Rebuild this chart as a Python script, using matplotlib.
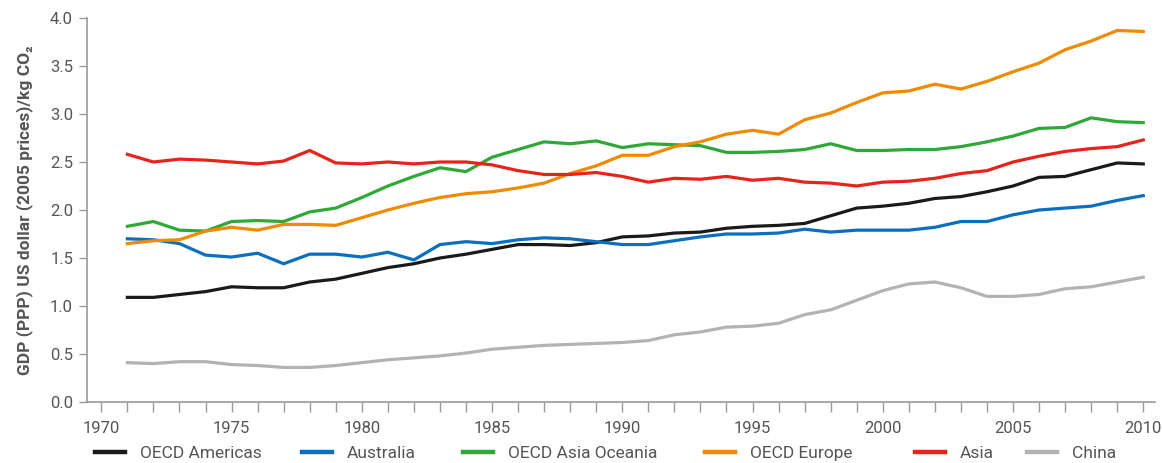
import matplotlib
matplotlib.use("Agg")
import matplotlib.pyplot as plt
from matplotlib.lines import Line2D

plt.rcParams['font.family'] = ['Roboto', 'DejaVu Sans']

years = list(range(1971, 2011))

oecd_americas = [1.09, 1.09, 1.12, 1.15, 1.20, 1.19, 1.19, 1.25, 1.28, 1.34,
                 1.40, 1.44, 1.50, 1.54, 1.59, 1.64, 1.64, 1.63, 1.66, 1.72,
                 1.73, 1.76, 1.77, 1.81, 1.83, 1.84, 1.86, 1.94, 2.02, 2.04,
                 2.07, 2.12, 2.14, 2.19, 2.25, 2.34, 2.35, 2.42, 2.49, 2.48]
australia = [1.70, 1.69, 1.65, 1.53, 1.51, 1.55, 1.44, 1.54, 1.54, 1.51,
             1.56, 1.48, 1.64, 1.67, 1.65, 1.69, 1.71, 1.70, 1.67, 1.64,
             1.64, 1.68, 1.72, 1.75, 1.75, 1.76, 1.80, 1.77, 1.79, 1.79,
             1.79, 1.82, 1.88, 1.88, 1.95, 2.00, 2.02, 2.04, 2.10, 2.15]
oecd_asia_oceania = [1.83, 1.88, 1.79, 1.78, 1.88, 1.89, 1.88, 1.98, 2.02, 2.13,
                     2.25, 2.35, 2.44, 2.40, 2.55, 2.63, 2.71, 2.69, 2.72, 2.65,
                     2.69, 2.68, 2.67, 2.60, 2.60, 2.61, 2.63, 2.69, 2.62, 2.62,
                     2.63, 2.63, 2.66, 2.71, 2.77, 2.85, 2.86, 2.96, 2.92, 2.91]
oecd_europe = [1.65, 1.68, 1.69, 1.78, 1.82, 1.79, 1.85, 1.85, 1.84, 1.92,
               2.00, 2.07, 2.13, 2.17, 2.19, 2.23, 2.28, 2.38, 2.46, 2.57,
               2.57, 2.66, 2.71, 2.79, 2.83, 2.79, 2.94, 3.01, 3.12, 3.22,
               3.24, 3.31, 3.26, 3.34, 3.44, 3.53, 3.67, 3.76, 3.87, 3.86]
asia = [2.58, 2.50, 2.53, 2.52, 2.50, 2.48, 2.51, 2.62, 2.49, 2.48,
        2.50, 2.48, 2.50, 2.50, 2.47, 2.41, 2.37, 2.37, 2.39, 2.35,
        2.29, 2.33, 2.32, 2.35, 2.31, 2.33, 2.29, 2.28, 2.25, 2.29,
        2.30, 2.33, 2.38, 2.41, 2.50, 2.56, 2.61, 2.64, 2.66, 2.73]
china = [0.41, 0.40, 0.42, 0.42, 0.39, 0.38, 0.36, 0.36, 0.38, 0.41,
         0.44, 0.46, 0.48, 0.51, 0.55, 0.57, 0.59, 0.60, 0.61, 0.62,
         0.64, 0.70, 0.73, 0.78, 0.79, 0.82, 0.91, 0.96, 1.06, 1.16,
         1.23, 1.25, 1.19, 1.10, 1.10, 1.12, 1.18, 1.20, 1.25, 1.30]

series_names = ["OECD Americas", "Australia", "OECD Asia Oceania",
                "OECD Europe", "Asia", "China"]
series_values = [oecd_americas, australia, oecd_asia_oceania,
                 oecd_europe, asia, china]
colors = ["#1a1a1a", "#0a6fbf", "#2ea836", "#f08a00", "#e8231c", "#b3b3b3"]

x_ticks = list(range(1970, 2011, 5))
y_ticks = [0.0, 0.5, 1.0, 1.5, 2.0, 2.5, 3.0, 3.5, 4.0]

text_color = "#555555"
axis_color = "#9a9a9a"

W, H = 1162, 463
fig = plt.figure(figsize=(W / 100, H / 100), dpi=100)
ax = fig.add_axes([87 / W, 61 / H, 1068 / W, 384 / H])

lines = []
for name, vals, col in zip(series_names, series_values, colors):
    ln, = ax.plot(years, vals, color=col, lw=2.3, label=name)
    lines.append(ln)

ax.set_xlim(1969.45, 2010.45)
ax.set_ylim(0, 4.0)
ax.set_xticks(x_ticks)
ax.set_xticks(range(1970, 2011), minor=True)
ax.set_yticks(y_ticks)
ax.set_yticklabels([f"{v:.1f}" for v in y_ticks])

for side in ("top", "right"):
    ax.spines[side].set_visible(False)
for side in ("left", "bottom"):
    ax.spines[side].set_color(axis_color)
    ax.spines[side].set_linewidth(1.2)

ax.tick_params(axis="both", which="both", colors=axis_color, labelcolor=text_color,
               labelsize=12, width=1.0)
ax.tick_params(axis="x", which="both", length=7, direction="out", pad=7)
ax.tick_params(axis="y", length=6, pad=4)

ax.set_ylabel("GDP (PPP) US dollar (2005 prices)/kg CO\u2082", fontsize=12.5,
              fontweight="bold", color=text_color, labelpad=12)

# one legend entry per series, laid out along the bottom edge
legend_x = [95, 302, 463, 705, 915, 1027]
for ln, xpix in zip(lines, legend_x):
    h = Line2D([], [], color=ln.get_color(), lw=3.2)
    leg = fig.legend(handles=[h], labels=[ln.get_label()], loc="center left",
                     bbox_to_anchor=(xpix / W, 10 / H), frameon=False,
                     fontsize=12.5, handlelength=1.75, handletextpad=0.85,
                     borderpad=0, borderaxespad=0)
    for t in leg.get_texts():
        t.set_color(text_color)

fig.savefig("out.png", dpi=100)
